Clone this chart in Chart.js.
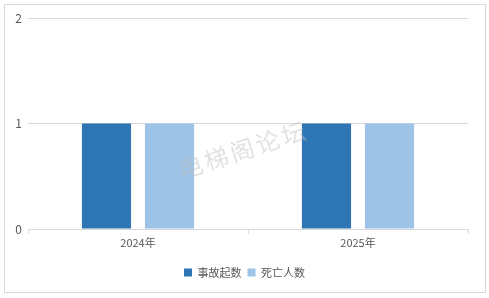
<!DOCTYPE html>
<html><head><meta charset="utf-8">
<script src="https://cdn.jsdelivr.net/npm/chart.js@4/dist/chart.umd.min.js"></script>
<style>html,body{margin:0;padding:0;background:#fff}#wrap{width:489px;height:298px;position:relative}</style>
</head><body><div id="wrap"><canvas id="c" width="489" height="298"></canvas></div>
<script>
const categories = ['2024年', '2025年'];
const seriesNames = ['事故起数', '死亡人数'];
const accidents = [1, 1];
const deaths = [1, 1];
const yTicks = [0, 1, 2];
const watermark = '电梯阁论坛';

const FONT = '"Noto Sans CJK SC", "Liberation Sans", sans-serif';

const framePlugin = {
  id: 'frame',
  beforeDraw(chart) {
    const ctx = chart.ctx;
    ctx.save();
    ctx.fillStyle = '#fff';
    ctx.fillRect(0, 0, chart.width, chart.height);
    ctx.strokeStyle = '#d9d9d9';
    ctx.lineWidth = 1;
    ctx.strokeRect(4.5, 4.5, 481, 288);
    ctx.restore();
  },
  afterDraw(chart) {
    const ctx = chart.ctx;
    ctx.save();
    ctx.translate(242, 150);
    ctx.rotate(-18 * Math.PI / 180);
    ctx.font = '24px ' + FONT;
    ctx.textAlign = 'center';
    ctx.textBaseline = 'middle';
    ctx.fillStyle = 'rgba(190,190,190,0.45)';
    const chars = watermark.split('');
    const step = 27;
    chars.forEach((ch, i) => {
      ctx.fillText(ch, (i - (chars.length - 1) / 2) * step, 0);
    });
    ctx.restore();
  }
};

new Chart(document.getElementById('c'), {
  type: 'bar',
  data: {
    labels: categories,
    datasets: [
      { label: seriesNames[0], data: accidents, backgroundColor: '#2E75B6', categoryPercentage: 0.573, barPercentage: 0.78 },
      { label: seriesNames[1], data: deaths, backgroundColor: '#9DC3E6', categoryPercentage: 0.573, barPercentage: 0.78 }
    ]
  },
  options: {
    responsive: false,
    animation: false,
    devicePixelRatio: 1,
    layout: { padding: { top: 18, right: 0, left: 0, bottom: 10 } },
    plugins: {
      legend: {
        position: 'bottom',
        labels: { boxWidth: 8, boxHeight: 8, padding: 6, color: '#595959', font: { family: FONT, size: 11 } }
      },
      tooltip: { enabled: false }
    },
    scales: {
      x: {
        grid: { display: true, drawOnChartArea: false, color: '#d9d9d9', tickLength: 5, offset: true },
        border: { display: true, color: '#d9d9d9' },
        ticks: { color: '#595959', font: { family: FONT, size: 11 }, padding: 2 },
        afterFit(s) { s.height = 32; }
      },
      y: {
        min: 0, max: 2,
        afterBuildTicks(s) { s.ticks = yTicks.map(v => ({ value: v })); },
        grid: { color: '#d9d9d9', drawTicks: false },
        border: { display: false },
        ticks: { color: '#595959', font: { family: FONT, size: 12 }, padding: 6 },
        afterFit(s) { s.width = 28; }
      },
      yRight: {
        position: 'right',
        min: 0, max: 2,
        grid: { display: false },
        border: { display: false },
        ticks: { display: false },
        afterFit(s) { s.width = 21; }
      }
    }
  },
  plugins: [framePlugin]
});
</script></body></html>
